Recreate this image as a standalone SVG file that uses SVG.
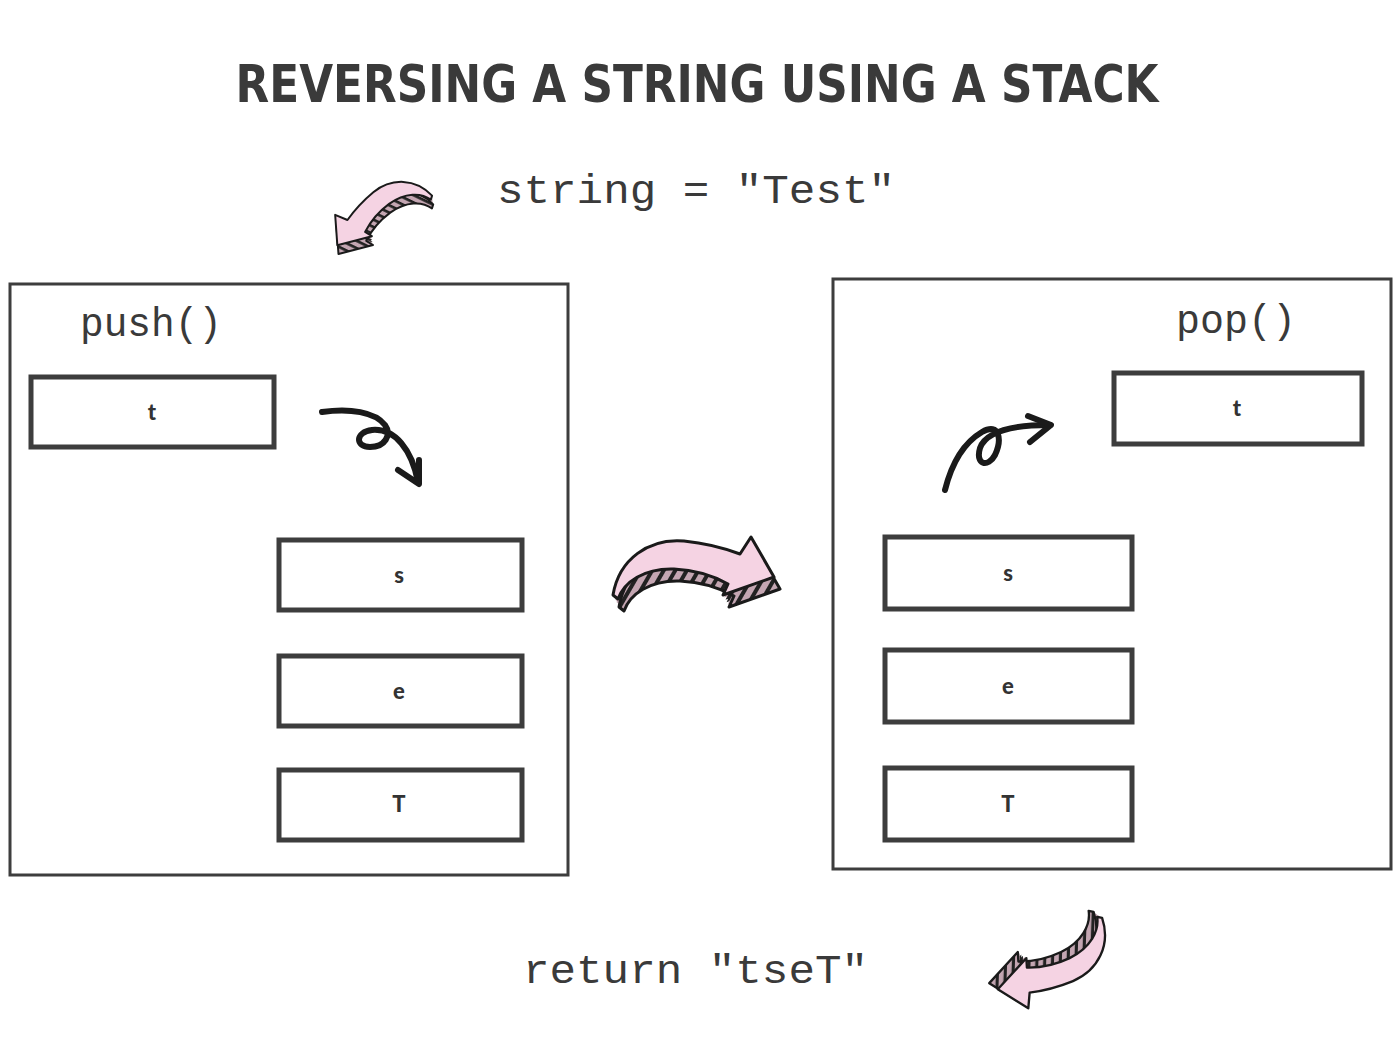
<svg xmlns="http://www.w3.org/2000/svg" width="1400" height="1050" viewBox="0 0 1400 1050">
<defs>
<pattern id="hatch" width="10" height="10" patternUnits="userSpaceOnUse" patternTransform="rotate(30)">
<rect width="10" height="10" fill="#c4a6b2"/>
<rect width="4" height="10" fill="#222"/>
</pattern>
<path id="arrowShape" d="M-81,21 C-75,-15 -45,-36 -10,-33 C10,-31 30,-26 46,-20 L57,-37 L80,3 L29,21 L34,10 C18,1 2,-4 -20,-5 C-50,-6 -70,8 -76,25 Z"/>
<clipPath id="extrude">
<use href="#arrowShape" transform="translate(1.2,2.4)"/>
<use href="#arrowShape" transform="translate(2.4,4.8)"/>
<use href="#arrowShape" transform="translate(3.6,7.2)"/>
<use href="#arrowShape" transform="translate(4.8,9.6)"/>
<use href="#arrowShape" transform="translate(6,12)"/>
</clipPath>
<g id="bigArrow" stroke-linejoin="round">
<rect x="-100" y="-60" width="200" height="120" fill="url(#hatch)" clip-path="url(#extrude)"/>
<use href="#arrowShape" transform="translate(6,12)" fill="none" stroke="#1a1a1a" stroke-width="3"/>
<use href="#arrowShape" fill="#f5d3e3" stroke="#1a1a1a" stroke-width="3"/>
</g>
<style>
.frame{fill:none;stroke:#3d3d3d;stroke-width:3}
.cell{fill:#fff;stroke:#3d3d3d;stroke-width:5}
.mono{font-family:"Liberation Mono","Courier New",monospace;fill:#3a3a3a}
.letter{font-family:"Lato","Liberation Sans",sans-serif;font-weight:900;font-size:22px;fill:#333;text-anchor:middle}
.scribble{fill:none;stroke:#1a1a1a;stroke-width:6;stroke-linecap:round;stroke-linejoin:round}
</style>
</defs>
<rect width="1400" height="1050" fill="#fff"/>
<text x="697" y="102" text-anchor="middle" font-family="'DejaVu Sans Condensed','DejaVu Sans',sans-serif" font-weight="bold" font-size="52" fill="#3a3a3a" textLength="923" lengthAdjust="spacingAndGlyphs">REVERSING A STRING USING A STACK</text>
<text id="input" class="mono" x="497" y="203" font-size="41" textLength="398" lengthAdjust="spacingAndGlyphs">string = "Test"</text>
<g id="pushStack">
<rect class="frame" x="10" y="284" width="558" height="591"/>
<text class="mono" x="80" y="336" font-size="40" textLength="142" lengthAdjust="spacingAndGlyphs">push()</text>
</g>
<g id="push-t"><rect class="cell" x="31" y="377" width="243" height="70"/><text class="letter" x="152" y="420">t</text></g>
<g id="push-s"><rect class="cell" x="279" y="540" width="243" height="70"/><text class="letter" x="399" y="583">s</text></g>
<g id="push-e"><rect class="cell" x="279" y="656" width="243" height="70"/><text class="letter" x="399" y="699">e</text></g>
<g id="push-T"><rect class="cell" x="279" y="770" width="243" height="70"/><text class="letter" x="399" y="812">T</text></g>
<g id="popStack">
<rect class="frame" x="833" y="279" width="558" height="590"/>
<text class="mono" x="1176" y="333" font-size="40" textLength="120" lengthAdjust="spacingAndGlyphs">pop()</text>
</g>
<g id="pop-t"><rect class="cell" x="1114" y="373" width="248" height="71"/><text class="letter" x="1237" y="416">t</text></g>
<g id="pop-s"><rect class="cell" x="885" y="537" width="247" height="72"/><text class="letter" x="1008" y="581">s</text></g>
<g id="pop-e"><rect class="cell" x="885" y="650" width="247" height="72"/><text class="letter" x="1008" y="694">e</text></g>
<g id="pop-T"><rect class="cell" x="885" y="768" width="247" height="72"/><text class="letter" x="1008" y="812">T</text></g>
<text id="output" class="mono" x="523" y="983" font-size="41" textLength="345" lengthAdjust="spacingAndGlyphs">return "tseT"</text>
<g id="connectors">
<use href="#bigArrow" transform="translate(380,214) rotate(-34) scale(-0.66,0.66)"/>
<use href="#bigArrow" transform="translate(694,574)"/>
<use href="#bigArrow" transform="translate(1054,962) rotate(152) scale(0.78)"/>
<path class="scribble" d="M322,412 C350,408 375,412 385,425 C392,435 385,447 370,447 C355,447 355,432 372,430 C395,428 412,450 418,482"/>
<path class="scribble" d="M398,470 L419,484 L419,460"/>
<path class="scribble" d="M945,490 C950,470 960,445 982,432 C1000,422 1002,440 995,455 C988,468 975,465 980,448 C986,432 1010,425 1050,425"/>
<path class="scribble" d="M1028,416 L1051,425 L1030,442"/>
</g>
</svg>
